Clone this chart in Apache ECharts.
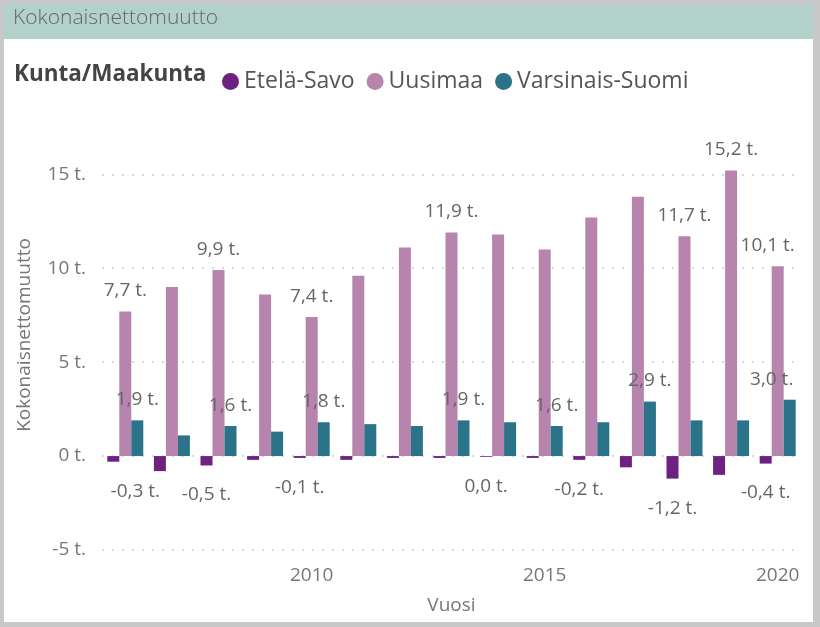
<!DOCTYPE html>
<html>
<head>
<meta charset="utf-8">
<script src="https://cdn.jsdelivr.net/npm/echarts@6/dist/echarts.min.js"></script>
<style>
  html, body { margin: 0; padding: 0; background: #c8c8c8; }
  #chart { width: 820px; height: 627px; }
</style>
</head>
<body>
<div id="chart"></div>
<script>
// ---- data (thousands of persons) ----
const years = ['2006','2007','2008','2009','2010','2011','2012','2013','2014','2015','2016','2017','2018','2019','2020'];
const eteläSavo = [-0.3, -0.8, -0.5, -0.2, -0.1, -0.2, -0.1, -0.1, -0.04, -0.1, -0.2, -0.6, -1.2, -1.0, -0.4];
const uusimaa = [7.7, 9.0, 9.9, 8.6, 7.4, 9.6, 11.1, 11.9, 11.8, 11.0, 12.7, 13.8, 11.7, 15.2, 10.1];
const varsinaisSuomi = [1.9, 1.1, 1.6, 1.3, 1.8, 1.7, 1.6, 1.9, 1.8, 1.6, 1.8, 2.9, 1.9, 1.9, 3.0];
const labeledEteläSavo = ['2006','2008','2010','2014','2016','2018','2020'];
const labeledUusimaa = ['2006','2008','2010','2013','2018','2019','2020'];
const labeledVarsinaisSuomi = ['2006','2008','2010','2013','2015','2017','2020'];
const yTicks = [-5, 0, 5, 10, 15];
const xTickYears = ['2010','2015','2020'];

const FONT = '"Open Sans", "Noto Sans", sans-serif';

function fmt(v) {
  const r = Math.round(v * 10) / 10;
  return (r === 0 ? 0 : r).toFixed(1).replace('.', ',') + ' t.';
}

// label shifts keeping edge labels inside the plot (style only)
const edgeShift = { 'Etelä-Savo|2006': [22, 0], 'Uusimaa|2020': [-10, 0], 'Varsinais-Suomi|2020': [-18, 0] };

function build(name, values, labeled) {
  return values.map((v, i) => {
    const key = name + '|' + years[i];
    const item = { value: v, label: { show: labeled.includes(years[i]) } };
    if (edgeShift[key]) item.label.offset = edgeShift[key];
    return item;
  });
}

const chart = echarts.init(document.getElementById('chart'), null, { renderer: 'canvas' });

const labelBase = { fontFamily: FONT, fontSize: 19, color: '#666', formatter: p => fmt(p.value) };

chart.setOption({
  animation: false,
  backgroundColor: 'transparent',
  graphic: [
    { type: 'rect', left: 4, top: 4, shape: { width: 809, height: 618 }, style: { fill: '#ffffff' }, z: -10 },
    { type: 'rect', left: 4, top: 4, shape: { width: 809, height: 35 }, style: { fill: '#b3d1cb' }, z: -9 },
    { type: 'text', left: 13, top: 8, style: { text: 'Kokonaisnettomuutto', font: '300 21px ' + FONT, fill: '#666' } },
    { type: 'text', left: 14, top: 63, style: { text: 'Kunta/Maakunta', font: 'bold 22.5px ' + FONT, fill: '#444' } },
    { type: 'text', x: 25, y: 335, rotation: Math.PI / 2,
      style: { text: 'Kokonaisnettomuutto', font: '19px ' + FONT, fill: '#777', align: 'center', verticalAlign: 'middle' } }
  ],
  legend: {
    left: 217, top: 65,
    icon: 'circle', itemWidth: 17, itemHeight: 17, itemGap: 12,
    textStyle: { fontFamily: FONT, fontSize: 23, color: '#555' },
    data: ['Etelä-Savo', 'Uusimaa', 'Varsinais-Suomi']
  },
  grid: { left: 102, right: 19, top: 136.7, bottom: 77, containLabel: false },
  xAxis: {
    type: 'category',
    data: years,
    name: 'Vuosi', nameLocation: 'middle', nameGap: 46,
    nameTextStyle: { fontFamily: FONT, fontSize: 19, color: '#777' },
    axisLine: { show: false }, axisTick: { show: false },
    axisLabel: {
      interval: (i, v) => xTickYears.includes(v),
      margin: 16, fontFamily: FONT, fontSize: 19, color: '#777'
    },
    splitLine: { show: false }
  },
  yAxis: {
    type: 'value', min: -5, max: 17, interval: 5,
    axisLine: { show: false }, axisTick: { show: false },
    axisLabel: {
      margin: 16, fontFamily: FONT, fontSize: 19, color: '#777',
      formatter: v => yTicks.includes(v) ? v + ' t.' : ''
    },
    splitLine: { show: true, showMaxLine: false, lineStyle: { color: '#cccccc', width: 1.5, type: [2, 8] } }
  },
  series: [
    { name: 'Etelä-Savo', type: 'bar', barWidth: 12, barGap: '0%', itemStyle: { color: '#6d2180' },
      label: Object.assign({ position: 'bottom', distance: 20 }, labelBase),
      data: build('Etelä-Savo', eteläSavo, labeledEteläSavo) },
    { name: 'Uusimaa', type: 'bar', barWidth: 12, barGap: '0%', itemStyle: { color: '#b684ad' },
      label: Object.assign({ position: 'top', distance: 11 }, labelBase),
      data: build('Uusimaa', uusimaa, labeledUusimaa) },
    { name: 'Varsinais-Suomi', type: 'bar', barWidth: 12, barGap: '0%', itemStyle: { color: '#2a7388' },
      label: Object.assign({ position: 'top', distance: 11 }, labelBase),
      data: build('Varsinais-Suomi', varsinaisSuomi, labeledVarsinaisSuomi) }
  ]
});
</script>
</body>
</html>
